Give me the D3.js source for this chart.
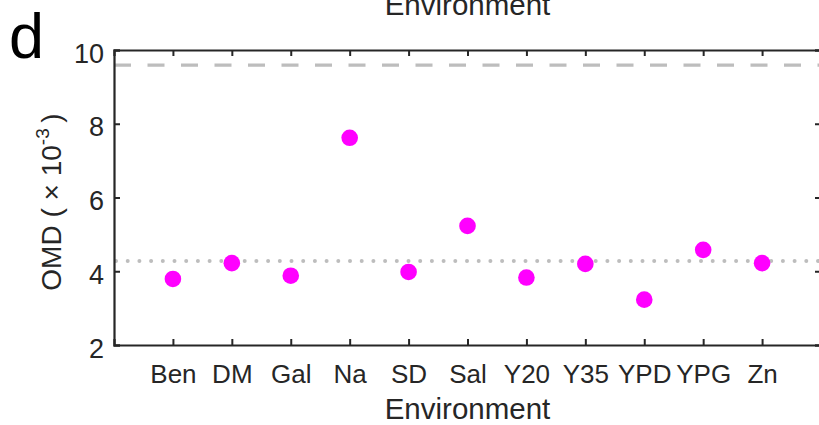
<!DOCTYPE html>
<html>
<head>
<meta charset="utf-8">
<script src="https://cdn.jsdelivr.net/npm/d3@7"></script>
<style>
  html, body { margin: 0; padding: 0; background: #fff; overflow: hidden; }
  svg { display: block; font-family: "Liberation Sans", Arial, Helvetica, sans-serif; }
</style>
</head>
<body>
<svg id="chart" width="819" height="425"></svg>
<script>
// Environments and their OMD values (x 10^-3)
const environments = ["Ben", "DM", "Gal", "Na", "SD", "Sal", "Y20", "Y35", "YPD", "YPG", "Zn"];
const omdValues = [3.79, 4.22, 3.88, 7.62, 3.98, 5.23, 3.83, 4.20, 3.23, 4.58, 4.22];
// Reference levels: dashed upper line and dotted baseline
const upperLevel = 9.59;
const baselineLevel = 4.28;
const yTicks = [2, 4, 6, 8, 10];

(function draw() {
  const svg = d3.select("#chart");
  const plotLeft = 114, plotRight = 821, plotTop = 50, plotBottom = 345;

  const x = d3.scaleLinear().domain([0, environments.length + 1]).range([plotLeft, plotRight]);
  const y = d3.scaleLinear().domain([2, 10]).range([plotBottom, plotTop]);

  const axisColor = "#262626";
  const tickLen = 6;

  // Reference lines
  svg.append("line")
    .attr("x1", plotLeft).attr("x2", plotRight)
    .attr("y1", y(upperLevel)).attr("y2", y(upperLevel))
    .attr("stroke", "#bdbdbd").attr("stroke-width", 3.3)
    .attr("stroke-dasharray", "17,16.5");

  svg.append("line")
    .attr("x1", plotLeft + 2).attr("x2", plotRight)
    .attr("y1", y(baselineLevel)).attr("y2", y(baselineLevel))
    .attr("stroke", "#bdbdbd").attr("stroke-width", 4)
    .attr("stroke-linecap", "round")
    .attr("stroke-dasharray", "0,11.7");

  // Data points
  svg.append("g").selectAll("circle")
    .data(omdValues)
    .join("circle")
    .attr("cx", (d, i) => x(i + 1))
    .attr("cy", d => y(d))
    .attr("r", 8.3)
    .attr("fill", "#ff00ff");

  // Axes: left and bottom with labels, top and right mirrored ticks
  const xTickVals = environments.map((d, i) => i + 1);

  const gLeft = svg.append("g").attr("transform", `translate(${plotLeft},0)`)
    .call(d3.axisLeft(y).tickValues(yTicks).tickSize(-tickLen).tickPadding(10).tickFormat(d3.format("d")));
  const gRight = svg.append("g").attr("transform", `translate(${plotRight},0)`)
    .call(d3.axisRight(y).tickValues(yTicks).tickSize(-tickLen).tickFormat(""));
  const gBottom = svg.append("g").attr("transform", `translate(0,${plotBottom})`)
    .call(d3.axisBottom(x).tickValues(xTickVals).tickSize(-tickLen).tickPadding(20)
      .tickFormat(d => environments[d - 1]));
  const gTop = svg.append("g").attr("transform", `translate(0,${plotTop})`)
    .call(d3.axisTop(x).tickValues(xTickVals).tickSize(-tickLen).tickFormat(""));

  [gLeft, gRight, gBottom, gTop].forEach(g => {
    g.select(".domain").attr("stroke", axisColor).attr("stroke-width", 2.2);
    g.selectAll(".tick line").attr("stroke", axisColor).attr("stroke-width", 2);
    g.selectAll(".tick text").attr("fill", axisColor).attr("font-size", 26)
      .attr("font-family", "'Liberation Sans', Arial, sans-serif");
  });
  gLeft.selectAll(".tick text").attr("dy", "0.45em").attr("font-size", 27);

  // Axis titles
  svg.append("text")
    .attr("x", (plotLeft + plotRight) / 2).attr("y", 419)
    .attr("text-anchor", "middle")
    .attr("font-size", 29.5).attr("fill", axisColor)
    .text("Environment");

  // Bottom of the title from the panel above
  svg.append("text")
    .attr("x", (plotLeft + plotRight) / 2).attr("y", 15)
    .attr("text-anchor", "middle")
    .attr("font-size", 29.5).attr("fill", axisColor)
    .text("Environment");

  const yl = svg.append("text")
    .attr("transform", "translate(61,202) rotate(-90)")
    .attr("text-anchor", "middle")
    .attr("font-size", 28).attr("fill", axisColor);
  yl.append("tspan").text("OMD ( \u00D7 10");
  yl.append("tspan").attr("font-size", 19).attr("dy", -12).text("-3");
  yl.append("tspan").attr("dy", 12).text("\u2009)");

  // Panel letter
  svg.append("text")
    .attr("x", 9).attr("y", 58)
    .attr("font-size", 63).attr("fill", "#000")
    .text("d");
})();
</script>
</body>
</html>
